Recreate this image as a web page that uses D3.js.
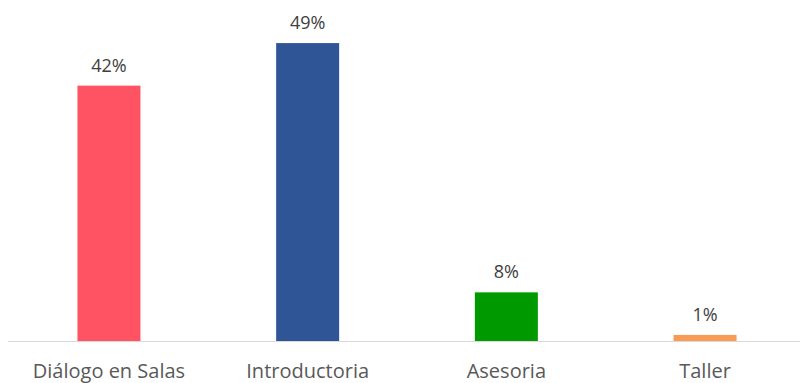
<!DOCTYPE html>
<html>
<head>
<meta charset="utf-8">
<script src="https://cdn.jsdelivr.net/npm/d3@7"></script>
<style>
    body { margin: 0; background: #fff; }
    svg { display: block; }
</style>
</head>
<body>
<div id="chart"></div>
<script>
var categories = ['Diálogo en Salas', 'Introductoria', 'Asesoria', 'Taller'];
var values = [42, 49, 8, 1];
var labels = ['42%', '49%', '8%', '1%'];
var colors = ['#FF5363', '#2F5597', '#009A00', '#F79B55'];

var width = 802, height = 383;
var baseline = 341;

var svg = d3.select('#chart')
    .append('svg')
    .attr('width', width)
    .attr('height', height);

// scales
var x = d3.scaleBand()
    .domain(categories)
    .range([9.6, 804.4])
    .paddingInner(0.683)
    .paddingOuter(0.3415);

var y = d3.scaleLinear()
    .domain([0, 50])
    .range([baseline, 37]);

var data = categories.map(function(c, i) {
    return { cat: c, value: values[i], label: labels[i], color: colors[i] };
});

// bars
svg.selectAll('rect.bar')
    .data(data)
    .enter().append('rect')
    .attr('class', 'bar')
    .attr('x', function(d) { return x(d.cat); })
    .attr('y', function(d) { return y(d.value); })
    .attr('width', x.bandwidth())
    .attr('height', function(d) { return baseline - y(d.value); })
    .attr('fill', function(d) { return d.color; });

// x axis
var xAxis = d3.axisBottom(x).tickSize(0).tickPadding(23);
var gx = svg.append('g')
    .attr('transform', 'translate(0,' + baseline + ')')
    .call(xAxis);
gx.select('.domain').remove();
gx.append('line')
    .attr('x1', 8).attr('x2', 800)
    .attr('y1', 0.5).attr('y2', 0.5)
    .attr('stroke', '#d9d9d9')
    .attr('stroke-width', 1.2);
gx.selectAll('text')
    .attr('fill', '#595959')
    .style('font-family', '"Open Sans", sans-serif')
    .style('font-size', '20px');

// data labels
svg.selectAll('text.val')
    .data(data)
    .enter().append('text')
    .attr('class', 'val')
    .attr('x', function(d) { return x(d.cat) + x.bandwidth() / 2; })
    .attr('y', function(d) { return y(d.value) - 14; })
    .attr('text-anchor', 'middle')
    .attr('fill', '#404040')
    .style('font-family', '"Open Sans", sans-serif')
    .style('font-size', '18px')
    .text(function(d) { return d.label; });
</script>
</body>
</html>
